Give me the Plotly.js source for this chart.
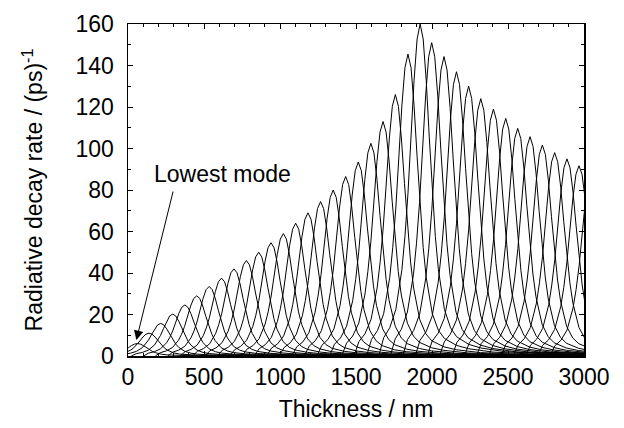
<!DOCTYPE html>
<html>
<head>
<meta charset="utf-8">
<script src="https://cdn.plot.ly/plotly-3.0.1.min.js"></script>
<style>html,body{margin:0;padding:0;background:#fff;}#chart{width:624px;height:428px;}</style>
</head>
<body>
<div id="chart"></div>
<script>
// Peak thickness (nm) of each guided mode
const modePeakThickness = [62, 138, 215, 294, 374, 452, 534, 615, 697, 779, 860, 941, 1022, 1103, 1184, 1267, 1350, 1432, 1515, 1598, 1678, 1759, 1842, 1922, 1998, 2079, 2161, 2241, 2321, 2404, 2485, 2564, 2645, 2726, 2807, 2888, 2967, 3048];
// Peak radiative decay rate (ps^-1) of each mode
const modePeakRate = [6, 11, 15.7, 20.2, 24.6, 29, 33.5, 37.5, 42, 46, 50, 54.6, 59, 64, 69, 74.4, 80, 86.5, 93.5, 102.5, 113, 126, 145.5, 160, 151, 144.3, 137, 130, 124, 119, 114.5, 109.7, 105.7, 101.7, 98, 95, 91.7, 89];
// Mode spacing in thickness (nm)
const modeSpacing = 80;
// Shape of one mode curve: offset from the peak in mode spacings, and rate relative to the peak
const profileOffset = [-3.4, -3.0, -2.5, -2.0, -1.5, -1.25, -1.0, -0.75, -0.5, -0.25, 0, 0.25, 0.5, 0.75, 1.0, 1.25, 1.5, 2, 2.5, 3, 4, 5, 7, 10, 14, 20, 30, 40];
const profileRatio  = [0, 0.055, 0.085, 0.14, 0.26, 0.36, 0.49, 0.66, 0.83, 0.955, 1, 0.955, 0.83, 0.66, 0.49, 0.36, 0.26, 0.14, 0.085, 0.058, 0.035, 0.024, 0.013, 0.007, 0.004, 0.002, 0.001, 0.0005];
// Axis tick labels
const xTicks = [0, 500, 1000, 1500, 2000, 2500, 3000];
const yTicks = [0, 20, 40, 60, 80, 100, 120, 140, 160];

const FONT = 'Liberation Sans, Arial, Helvetica, sans-serif';
const FS = 23;

const traces = modePeakThickness.map((xp, i) => ({
  type: 'scatter',
  mode: 'lines',
  x: profileOffset.map(u => xp + u * modeSpacing),
  y: profileRatio.map(r => r * modePeakRate[i]),
  line: {color: '#000', width: 1},
  hoverinfo: 'skip',
  showlegend: false
}));

const layout = {
  width: 624,
  height: 428,
  margin: {l: 128, r: 40, t: 24, b: 72},
  paper_bgcolor: '#fff',
  plot_bgcolor: '#fff',
  font: {family: FONT, size: FS, color: '#000'},
  showlegend: false,
  hovermode: false,
  xaxis: {
    range: [0, 3000],
    tickvals: xTicks,
    ticktext: xTicks.map(String),
    ticks: 'inside',
    ticklen: 5,
    tickwidth: 1,
    tickcolor: '#000',
    minor: {dtick: 100, ticks: 'inside', ticklen: 3, tickcolor: '#000', showgrid: false},
    mirror: 'ticks',
    showline: true,
    linecolor: '#000',
    linewidth: 1.5,
    showgrid: false,
    zeroline: false,
    tickfont: {family: FONT, size: FS, color: '#000'},
    title: {text: 'Thickness / nm', font: {family: FONT, size: FS, color: '#000'}, standoff: 12}
  },
  yaxis: {
    range: [0, 160],
    tickvals: yTicks,
    ticktext: yTicks.map(String),
    ticks: 'inside',
    ticklen: 5,
    tickwidth: 1,
    tickcolor: '#000',
    minor: {dtick: 10, ticks: 'inside', ticklen: 3, tickcolor: '#000', showgrid: false},
    mirror: 'ticks',
    showline: true,
    linecolor: '#000',
    linewidth: 1.5,
    showgrid: false,
    zeroline: false,
    ticklabelstandoff: 8,
    tickfont: {family: FONT, size: FS, color: '#000'},
    title: {text: 'Radiative decay rate / (ps)<sup>-1</sup>', font: {family: FONT, size: FS, color: '#000'}, standoff: 26}
  },
  annotations: [
    {
      x: 622, y: 87.5, xref: 'x', yref: 'y',
      text: 'Lowest mode', showarrow: false,
      font: {family: FONT, size: FS, color: '#000'}
    },
    {
      x: 55, y: 7.7, xref: 'x', yref: 'y',
      ax: 299, ay: 80, axref: 'x', ayref: 'y',
      text: '', showarrow: true,
      arrowhead: 2, arrowsize: 1.9, arrowwidth: 1, arrowcolor: '#000'
    }
  ]
};

Plotly.newPlot('chart', traces, layout, {staticPlot: true, displayModeBar: false});
</script>
</body>
</html>
